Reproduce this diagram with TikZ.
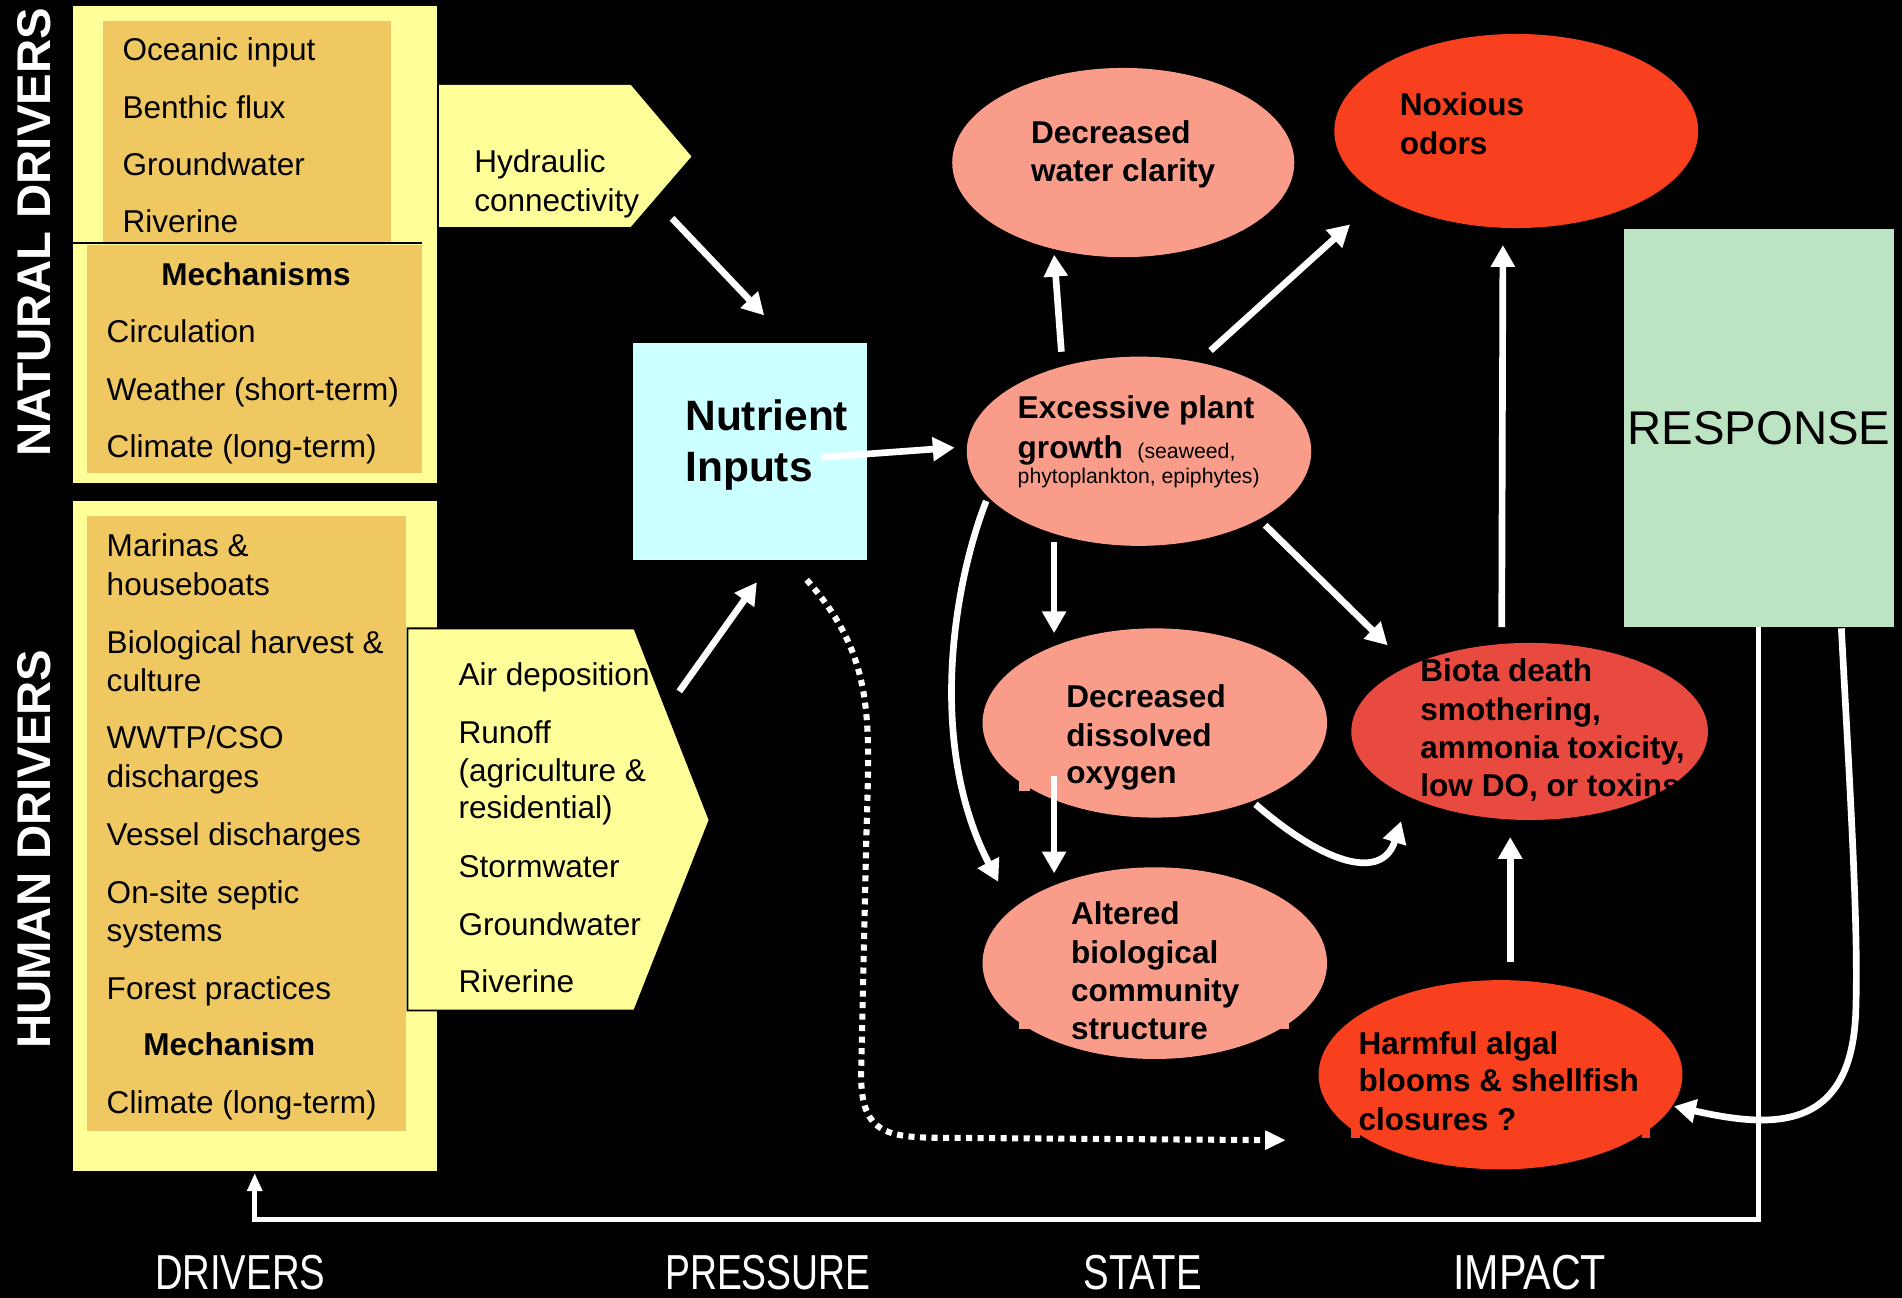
\documentclass[tikz,border=0pt]{standalone}
\usepackage{fontspec}
\setmainfont{Liberation Sans}
\usetikzlibrary{arrows.meta,shapes.geometric,calc}
\definecolor{ylw}{HTML}{FFFF99}
\definecolor{org}{HTML}{F0C862}
\definecolor{cyn}{HTML}{CCFFFF}
\definecolor{salm}{HTML}{F99D8A}
\definecolor{redo}{HTML}{F8401F}
\definecolor{biot}{HTML}{E84A40}
\definecolor{resp}{HTML}{BCE3C2}
\newcommand{\fsz}[1]{\fontsize{#1}{#1}\selectfont}
\tikzset{
  txt/.style={anchor=base west, inner sep=0pt, outer sep=0pt, font=\fsz{26}},
  btxt/.style={txt, font=\fsz{26}\bfseries},
  ell/.style={ellipse, inner sep=0pt, outer sep=0pt, draw=none},
  box/.style={inner sep=0pt, outer sep=0pt, draw=none},
  warr/.style={draw=white, line width=5.5pt, -{Triangle[width=19pt,length=18pt]}},
  vlab/.style={rotate=90, text=white, font=\fsz{39}\bfseries, inner sep=0pt},
  blab/.style={text=white, anchor=base, inner sep=0pt, font=\fsz{40.5}},
}
\begin{document}
\begin{tikzpicture}[x=1pt,y=-1pt]
\fill[black] (0,0) rectangle (1568,1070);
\useasboundingbox (0,0) rectangle (1568,1070);

% ---------- natural drivers
\node[box, fill=ylw, minimum width=300pt, minimum height=393pt, anchor=north west] (nat) at (60,5) {};
\fill[org] (85,17) rectangle (322,200);
\fill[org] (72,202) rectangle (348,390);
\draw[black, line width=1.5pt] (60,200.5) -- (348,200.5);
\node[txt] (n1) at (101,50) {Oceanic input};
\node[txt] (n2) at (101,98) {Benthic flux};
\node[txt] (n3) at (101,145) {Groundwater};
\node[txt] (n4) at (101,192) {Riverine};
\node[btxt, anchor=base] (n5) at (211,235) {Mechanisms};
\node[txt] (n6) at (88,282) {Circulation};
\node[txt] (n7) at (88,330) {Weather (short-term)};
\node[txt] (n8) at (88,377) {Climate (long-term)};
\node[vlab] (natlab) at (28,191.5) {NATURAL DRIVERS};

% hydraulic pentagon
\fill[ylw] (362,70) -- (520,70) -- (570,129) -- (520,187) -- (362,187) -- cycle;
\coordinate (hydtip) at (570,129);
\node[txt] (h1) at (391,142) {Hydraulic};
\node[txt] (h2) at (391,174) {connectivity};

% ---------- human drivers
\node[box, fill=ylw, minimum width=300pt, minimum height=552pt, anchor=north west] (hum) at (60,413) {};
\fill[org] (72,425) rectangle (335,932);
\node[txt] (m1) at (88,459) {Marinas \&};
\node[txt] (m2) at (88,491) {houseboats};
\node[txt] (m3) at (88,539) {Biological harvest \&};
\node[txt] (m4) at (88,570) {culture};
\node[txt] (m5) at (88,617) {WWTP/CSO};
\node[txt] (m6) at (88,649) {discharges};
\node[txt] (m7) at (88,697) {Vessel discharges};
\node[txt] (m8) at (88,745) {On-site septic};
\node[txt] (m9) at (88,776) {systems};
\node[txt] (m10) at (88,824) {Forest practices};
\node[btxt, anchor=base] (m11) at (189,870) {Mechanism};
\node[txt] (m12) at (88,918) {Climate (long-term)};
\node[vlab] (humlab) at (28,700) {HUMAN DRIVERS};

% pressure pentagon
\filldraw[fill=ylw, draw=black, line width=1.5pt] (336,518) -- (523,518) -- (585,676) -- (523,833) -- (336,833) -- cycle;
\coordinate (prestip) at (585,676);
\node[txt] (p1) at (378,565) {Air deposition};
\node[txt] (p2) at (378,613) {Runoff};
\node[txt] (p3) at (378,644) {(agriculture \&};
\node[txt] (p4) at (378,675) {residential)};
\node[txt] (p5) at (378,723) {Stormwater};
\node[txt] (p6) at (378,771) {Groundwater};
\node[txt] (p7) at (378,818) {Riverine};

% ---------- nutrient inputs
\node[box, fill=cyn, minimum width=193pt, minimum height=179pt] (nut) at (618.5,372.5) {};
\node[txt, font=\fsz{35}\bfseries] (nu1) at (565,355) {Nutrient};
\node[txt, font=\fsz{35}\bfseries] (nu2) at (565,397) {Inputs};

% ---------- state / impact ellipses
\node[ell, fill=salm, minimum width=282pt, minimum height=156pt] (dwc) at (926,134) {};
\node[btxt] (dwc1) at (850,118) {Decreased};
\node[btxt] (dwc2) at (850,150) {water clarity};

\node[ell, fill=redo, minimum width=300pt, minimum height=160pt] (nox) at (1250,108) {};
\node[btxt] (nox1) at (1154,95) {Noxious};
\node[btxt] (nox2) at (1154,127) {odors};

\node[ell, fill=salm, minimum width=284pt, minimum height=156pt] (epg) at (939,372) {};
\node[btxt] (epg1) at (839,345) {Excessive plant};
\node[btxt] (epg2) at (839,378) {growth {\mdseries\fsz{17.5} (seaweed,}};
\node[txt, font=\fsz{17.5}] (epg3) at (839,399) {phytoplankton, epiphytes)};

\node[ell, fill=salm, minimum width=284pt, minimum height=156pt] (ddo) at (952,596) {};
\fill[salm] (840,640) rectangle (849,652);
\node[btxt] (ddo1) at (879,583) {Decreased};
\node[btxt] (ddo2) at (879,615) {dissolved};
\node[btxt] (ddo3) at (879,646) {oxygen};

\node[ell, fill=salm, minimum width=284pt, minimum height=158pt] (alt) at (952,794) {};
\fill[salm] (840,840) rectangle (848,848);
\fill[salm] (1056,840) rectangle (1063,848);
\node[btxt] (alt1) at (883,762) {Altered};
\node[btxt] (alt2) at (883,794) {biological};
\node[btxt] (alt3) at (883,826) {community};
\node[btxt] (alt4) at (883,857) {structure};

\node[ell, fill=biot, minimum width=294pt, minimum height=146pt] (bio) at (1261,603) {};
\node[btxt] (bio1) at (1171,562) {Biota death};
\node[btxt] (bio2) at (1171,594) {smothering,};
\node[btxt] (bio3) at (1171,625) {ammonia toxicity,};
\node[btxt] (bio4) at (1171,657) {low DO, or toxins};

\node[ell, fill=redo, minimum width=300pt, minimum height=156pt] (hab) at (1237,886) {};
\fill[redo] (1114,928) rectangle (1121,938);
\fill[redo] (1354,928) rectangle (1360,938);
\node[btxt] (hab1) at (1120,869) {Harmful algal};
\node[btxt] (hab2) at (1120,900) {blooms \& shellfish};
\node[btxt] (hab3) at (1120,932) {closures ?};

% ---------- response
\node[box, fill=resp, minimum width=222pt, minimum height=328pt, font=\fsz{39}] (resp) at (1450,353) {RESPONSE};

% ---------- arrows
\draw[warr] ($(hydtip)+(-16,51)$) -- ($(nut.north)+(11.5,-23)$);
\draw[warr] ($(prestip)+(-25,-106)$) -- ($(nut.south)+(5.5,18)$);
\draw[warr] ($(nut)+(58.5,4.5)$) -- ($(epg)+(-152,-3)$);
\draw[warr] ($(epg)+(-64,-82)$) -- ($(dwc)+(-57,76)$);
\draw[warr] ($(epg)+(59,-83)$) -- ($(nox)+(-137,77)$);
\draw[warr] ($(epg)+(-70,75)$) -- ($(ddo)+(-83,-74)$);
\draw[warr] ($(epg)+(104,61)$) -- ($(bio)+(-117,-71)$);
\draw[warr] ($(epg)+(-126,41)$) .. controls (785,485) and (765,615) .. ($(alt)+(-129,-67)$);
\draw[warr] ($(ddo)+(-83,44)$) -- ($(alt)+(-83,-74)$);
\draw[warr] ($(ddo)+(83,67)$) .. controls (1095,715) and (1140,725) .. ($(bio)+(-106,74)$);
\draw[warr] ($(bio)+(-23,-86)$) -- ($(nox)+(-11,94)$);
\draw[warr] ($(hab)+(8,-93)$) -- ($(bio)+(-16,87)$);
\draw[warr, line width=5pt, dash pattern=on 5pt off 4.5pt, -{Triangle[width=15pt,length=17pt]}]
  ($(nut.south)+(46.5,16)$) .. controls (725,545) and (716,600) .. (714,700)
  -- (710,880) .. controls (708,935) and (730,938) .. (780,938) -- ($(hab)+(-177,54)$);
\draw[warr] ($(resp.south)+(68,1)$) .. controls (1525,650) and (1532,760) .. (1530,830)
  .. controls (1528,935) and (1460,930) .. ($(hab)+(143,26)$);
\draw[draw=white, line width=4pt, -{Triangle[width=12pt,length=15pt]}]
  (resp.south) -- (1450,1005) -- (210,1005) -- ($(hum.south)+(0,2)$);

% ---------- bottom labels
\node[blab] (lb1) at (198,1063) {\scalebox{0.78}[1]{DRIVERS}};
\node[blab] (lb2) at (633,1063) {\scalebox{0.76}[1]{PRESSURE}};
\node[blab] (lb3) at (942,1063) {\scalebox{0.78}[1]{STATE}};
\node[blab] (lb4) at (1261,1063) {\scalebox{0.84}[1]{IMPACT}};
\end{tikzpicture}
\end{document}
